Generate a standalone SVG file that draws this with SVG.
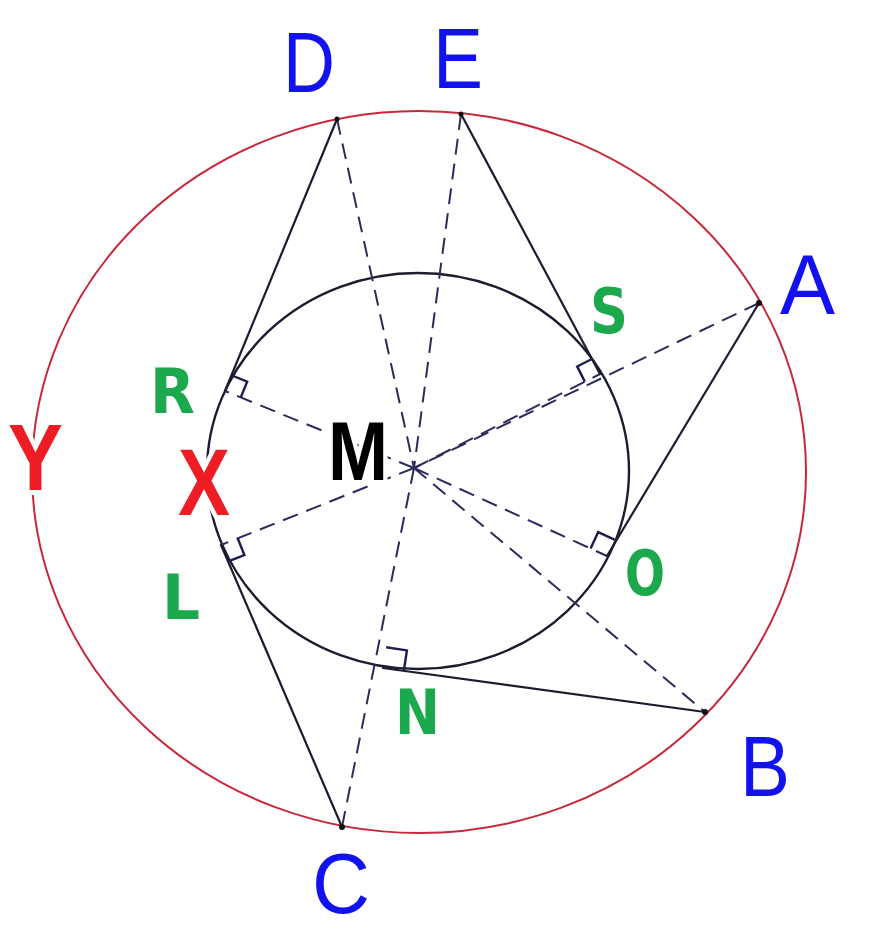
<svg xmlns="http://www.w3.org/2000/svg" width="874" height="932" viewBox="0 0 874 932">
<style>
.solid{stroke:#1c1c30;stroke-width:2.2;fill:none;stroke-linecap:round}
.dash{stroke:#2c2c5c;stroke-width:2;fill:none;stroke-dasharray:16 9}
.box{stroke:#1c1c50;stroke-width:2.4;fill:none}
.blue{font-family:"Liberation Sans",Arial,sans-serif;font-size:86px;fill:#1212ee}
.green{font-family:"DejaVu Sans",Verdana,sans-serif;font-weight:bold;font-size:62px;fill:#1ca84c}
.red{font-family:"Liberation Sans",Arial,sans-serif;font-weight:bold;font-size:94px;fill:#ee1c24;stroke:#fff;stroke-width:10;paint-order:stroke}
.black{font-family:"Liberation Sans",Arial,sans-serif;font-weight:bold;font-size:84px;fill:#000;stroke:#fff;stroke-width:10;paint-order:stroke}
</style>
<rect width="874" height="932" fill="#fff"/>
<g id="outer-circle"><ellipse cx="419" cy="472" rx="387" ry="361" fill="none" stroke="#c8283c" stroke-width="2"/></g>
<g id="inner-circle"><ellipse cx="418" cy="471" rx="211" ry="198" fill="none" stroke="#1c1c30" stroke-width="2.4"/></g>
<g id="connectors">
<line class="dash" x1="337" y1="119" x2="414" y2="468"/>
<line class="dash" x1="461" y1="114" x2="414" y2="468"/>
<line class="dash" x1="759" y1="303" x2="414" y2="468"/>
<line class="dash" x1="414" y1="468" x2="221" y2="545"/>
<line class="dash" x1="414" y1="468" x2="705" y2="712"/>
<line class="dash" x1="414" y1="468" x2="342" y2="827"/>
<line class="dash" x1="414" y1="468" x2="225" y2="391"/>
<line class="dash" x1="414" y1="468" x2="600" y2="374"/>
<line class="dash" x1="414" y1="468" x2="607" y2="556"/>
<line class="solid" x1="337" y1="119" x2="225" y2="391"/>
<line class="solid" x1="461" y1="114" x2="600" y2="374"/>
<line class="solid" x1="759" y1="303" x2="607" y2="556"/>
<line class="solid" x1="705" y1="712" x2="383" y2="668"/>
<line class="solid" x1="342" y1="827" x2="221" y2="545"/>
</g>
<g id="right-angles">
<g transform="translate(225,391) rotate(22.2)"><polyline class="box" points="17,0 17,-17 0,-17"/></g>
<g transform="translate(600,374) rotate(153.4)"><polyline class="box" points="17,0 17,17 0,17"/></g>
<g transform="translate(607,556) rotate(204.5)"><polyline class="box" points="18,0 18,18 0,18"/></g>
<g transform="translate(383,668) rotate(-81.3)"><polyline class="box" points="21,0 21,21 0,21"/></g>
<g transform="translate(221,545) rotate(-21.8)"><polyline class="box" points="18,0 18,18 0,18"/></g>
</g>
<g id="points">
<circle cx="337" cy="119" r="2.5" fill="#111"/>
<circle cx="461" cy="114" r="2.5" fill="#111"/>
<circle cx="759" cy="303" r="3" fill="#111"/>
<circle cx="705" cy="712" r="3" fill="#111"/>
<circle cx="342" cy="827" r="3" fill="#111"/>
</g>
<g id="label-D"><text class="blue" x="283" y="92" textLength="52" lengthAdjust="spacingAndGlyphs">D</text></g>
<g id="label-E"><text class="blue" x="433" y="88" textLength="50" lengthAdjust="spacingAndGlyphs">E</text></g>
<g id="label-A"><text class="blue" x="780" y="314" textLength="55" lengthAdjust="spacingAndGlyphs">A</text></g>
<g id="label-B"><text class="blue" x="740" y="796" textLength="50" lengthAdjust="spacingAndGlyphs">B</text></g>
<g id="label-C"><text class="blue" x="312" y="913" font-size="80" textLength="58" lengthAdjust="spacingAndGlyphs">C</text></g>
<g id="label-Y"><text class="red" x="8" y="490" textLength="55" lengthAdjust="spacingAndGlyphs">Y</text></g>
<g id="label-X"><text class="red" x="178" y="515" textLength="52" lengthAdjust="spacingAndGlyphs">X</text></g>
<g id="label-M"><text class="black" x="328" y="480" textLength="60" lengthAdjust="spacingAndGlyphs">M</text></g>
<g id="label-R"><text class="green" x="150" y="413" textLength="45" lengthAdjust="spacingAndGlyphs">R</text></g>
<g id="label-S"><text class="green" x="590" y="333" textLength="38" lengthAdjust="spacingAndGlyphs">S</text></g>
<g id="label-O"><text class="green" x="625" y="595" font-size="57" textLength="40" lengthAdjust="spacingAndGlyphs">O</text></g>
<g id="label-L"><text class="green" x="162" y="619" textLength="38" lengthAdjust="spacingAndGlyphs">L</text></g>
<g id="label-N"><text class="green" x="395" y="734" textLength="45" lengthAdjust="spacingAndGlyphs">N</text></g>
</svg>
